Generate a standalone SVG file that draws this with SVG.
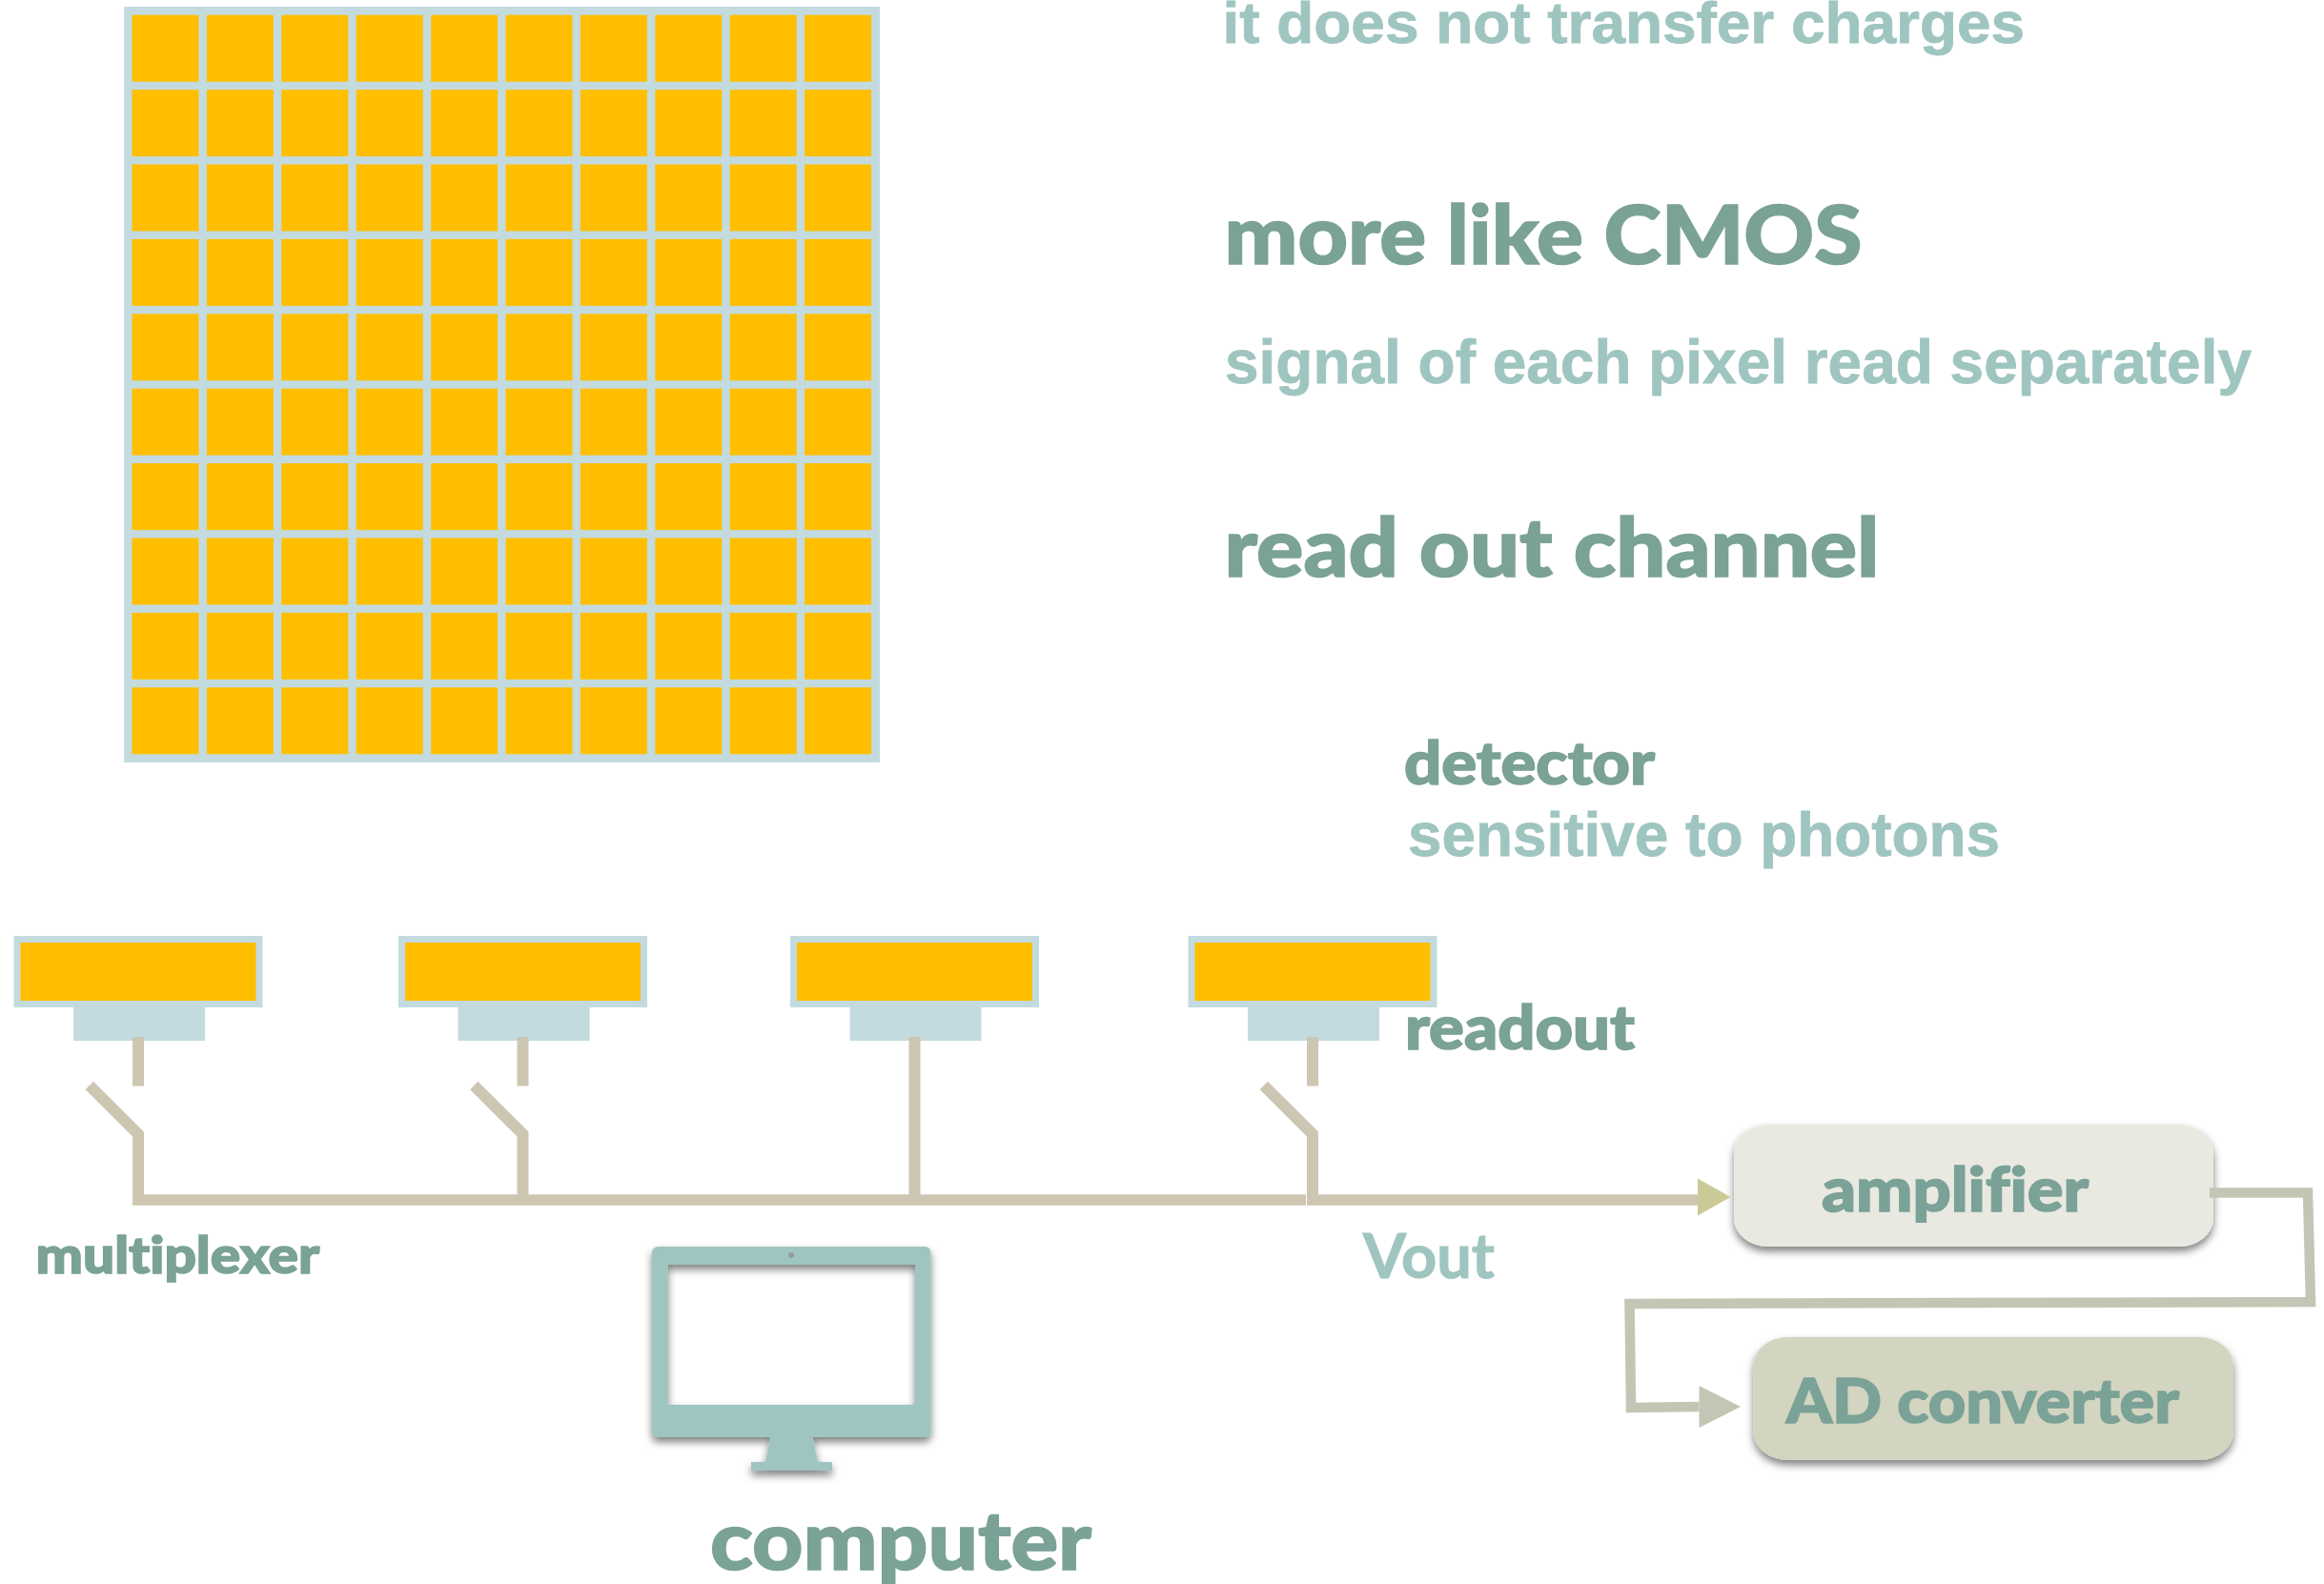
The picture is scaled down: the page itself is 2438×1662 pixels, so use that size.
<svg xmlns="http://www.w3.org/2000/svg" width="2438" height="1662" viewBox="0 0 2438 1662">
<style>
text{font-family:"Lato","Open Sans","Liberation Sans",sans-serif;font-weight:900;fill:#7BA297;stroke:#7BA297;stroke-width:1.6;font-variant-ligatures:none}
text.a{font-family:"Liberation Sans",Arial,sans-serif;font-weight:700;fill:#9FC5C0;stroke:#9FC5C0;stroke-width:0.8}
text.v{font-weight:700;fill:#9FC5C0;stroke:#9FC5C0;stroke-width:1}
.px{fill:#FFBF00}
.fr{fill:#C3DBDF}
.w{fill:none;stroke:#CDC6B2;stroke-width:12;stroke-miterlimit:10}
.w2{fill:none;stroke:#C3C6B4;stroke-width:10.5;stroke-miterlimit:10}
.sh{filter:url(#shadow)}
</style>
<defs>
<filter id="shadow" x="-10%" y="-10%" width="120%" height="130%"><feDropShadow dx="0" dy="5" stdDeviation="4" flood-color="#000" flood-opacity="0.5"/></filter>
<marker id="ah1" markerUnits="userSpaceOnUse" markerWidth="35" markerHeight="40" refX="0" refY="22.5" orient="0" overflow="visible"><path d="M0 0L34.5 19.5L0 39Z" fill="#CBCA97"/></marker>
<marker id="ah2" markerUnits="userSpaceOnUse" markerWidth="45" markerHeight="45" refX="0" refY="22" orient="0" overflow="visible"><path d="M0 0L43.5 22L0 44Z" fill="#C3C6B4"/></marker>
<g id="det"><rect class="fr" x="-130.5" y="982" width="261" height="75"/><rect class="px" x="-123.5" y="989" width="247" height="61"/><rect class="fr" x="-68" y="1057" width="138" height="35"/></g>
<rect id="cell" class="px" width="70" height="70"/>
</defs>
<rect width="2438" height="1662" fill="#fff"/>
<g id="pixel-array">
<rect class="fr" x="130" y="7" width="793" height="793"/>
<g id="cells">
<use href="#cell" x="138.500" y="15.700"/><use href="#cell" x="216.900" y="15.700"/><use href="#cell" x="295.300" y="15.700"/><use href="#cell" x="373.700" y="15.700"/><use href="#cell" x="452.100" y="15.700"/><use href="#cell" x="530.500" y="15.700"/><use href="#cell" x="608.900" y="15.700"/><use href="#cell" x="687.300" y="15.700"/><use href="#cell" x="765.700" y="15.700"/><use href="#cell" x="844.100" y="15.700"/>
<use href="#cell" x="138.500" y="94.100"/><use href="#cell" x="216.900" y="94.100"/><use href="#cell" x="295.300" y="94.100"/><use href="#cell" x="373.700" y="94.100"/><use href="#cell" x="452.100" y="94.100"/><use href="#cell" x="530.500" y="94.100"/><use href="#cell" x="608.900" y="94.100"/><use href="#cell" x="687.300" y="94.100"/><use href="#cell" x="765.700" y="94.100"/><use href="#cell" x="844.100" y="94.100"/>
<use href="#cell" x="138.500" y="172.500"/><use href="#cell" x="216.900" y="172.500"/><use href="#cell" x="295.300" y="172.500"/><use href="#cell" x="373.700" y="172.500"/><use href="#cell" x="452.100" y="172.500"/><use href="#cell" x="530.500" y="172.500"/><use href="#cell" x="608.900" y="172.500"/><use href="#cell" x="687.300" y="172.500"/><use href="#cell" x="765.700" y="172.500"/><use href="#cell" x="844.100" y="172.500"/>
<use href="#cell" x="138.500" y="250.900"/><use href="#cell" x="216.900" y="250.900"/><use href="#cell" x="295.300" y="250.900"/><use href="#cell" x="373.700" y="250.900"/><use href="#cell" x="452.100" y="250.900"/><use href="#cell" x="530.500" y="250.900"/><use href="#cell" x="608.900" y="250.900"/><use href="#cell" x="687.300" y="250.900"/><use href="#cell" x="765.700" y="250.900"/><use href="#cell" x="844.100" y="250.900"/>
<use href="#cell" x="138.500" y="329.300"/><use href="#cell" x="216.900" y="329.300"/><use href="#cell" x="295.300" y="329.300"/><use href="#cell" x="373.700" y="329.300"/><use href="#cell" x="452.100" y="329.300"/><use href="#cell" x="530.500" y="329.300"/><use href="#cell" x="608.900" y="329.300"/><use href="#cell" x="687.300" y="329.300"/><use href="#cell" x="765.700" y="329.300"/><use href="#cell" x="844.100" y="329.300"/>
<use href="#cell" x="138.500" y="407.700"/><use href="#cell" x="216.900" y="407.700"/><use href="#cell" x="295.300" y="407.700"/><use href="#cell" x="373.700" y="407.700"/><use href="#cell" x="452.100" y="407.700"/><use href="#cell" x="530.500" y="407.700"/><use href="#cell" x="608.900" y="407.700"/><use href="#cell" x="687.300" y="407.700"/><use href="#cell" x="765.700" y="407.700"/><use href="#cell" x="844.100" y="407.700"/>
<use href="#cell" x="138.500" y="486.100"/><use href="#cell" x="216.900" y="486.100"/><use href="#cell" x="295.300" y="486.100"/><use href="#cell" x="373.700" y="486.100"/><use href="#cell" x="452.100" y="486.100"/><use href="#cell" x="530.500" y="486.100"/><use href="#cell" x="608.900" y="486.100"/><use href="#cell" x="687.300" y="486.100"/><use href="#cell" x="765.700" y="486.100"/><use href="#cell" x="844.100" y="486.100"/>
<use href="#cell" x="138.500" y="564.500"/><use href="#cell" x="216.900" y="564.500"/><use href="#cell" x="295.300" y="564.500"/><use href="#cell" x="373.700" y="564.500"/><use href="#cell" x="452.100" y="564.500"/><use href="#cell" x="530.500" y="564.500"/><use href="#cell" x="608.900" y="564.500"/><use href="#cell" x="687.300" y="564.500"/><use href="#cell" x="765.700" y="564.500"/><use href="#cell" x="844.100" y="564.500"/>
<use href="#cell" x="138.500" y="642.900"/><use href="#cell" x="216.900" y="642.900"/><use href="#cell" x="295.300" y="642.900"/><use href="#cell" x="373.700" y="642.900"/><use href="#cell" x="452.100" y="642.900"/><use href="#cell" x="530.500" y="642.900"/><use href="#cell" x="608.900" y="642.900"/><use href="#cell" x="687.300" y="642.900"/><use href="#cell" x="765.700" y="642.900"/><use href="#cell" x="844.100" y="642.900"/>
<use href="#cell" x="138.500" y="721.300"/><use href="#cell" x="216.900" y="721.300"/><use href="#cell" x="295.300" y="721.300"/><use href="#cell" x="373.700" y="721.300"/><use href="#cell" x="452.100" y="721.300"/><use href="#cell" x="530.500" y="721.300"/><use href="#cell" x="608.900" y="721.300"/><use href="#cell" x="687.300" y="721.300"/><use href="#cell" x="765.700" y="721.300"/><use href="#cell" x="844.100" y="721.300"/>
</g>
</g>
<g id="notes">
<text class="a" x="1282.500" y="45" font-size="61" textLength="841.500" lengthAdjust="spacingAndGlyphs">it does not transfer charges</text>
<text x="1284.500" y="276.500" font-size="85" textLength="669" lengthAdjust="spacingAndGlyphs">more like CMOS</text>
<text class="a" x="1285" y="402" font-size="64" textLength="1077" lengthAdjust="spacingAndGlyphs">signal of each pixel read separately</text>
<text x="1284.500" y="604.500" font-size="85" textLength="687" lengthAdjust="spacingAndGlyphs">read out channel</text>
<text x="1473" y="823" font-size="62" textLength="263" lengthAdjust="spacingAndGlyphs">detector</text>
<text class="a" x="1477" y="898" font-size="64" textLength="621" lengthAdjust="spacingAndGlyphs">sensitive to photons</text>
</g>
<g id="detector-1"><use href="#det" x="145"/></g>
<g id="detector-2"><use href="#det" x="548.500"/></g>
<g id="detector-3"><use href="#det" x="959.500"/></g>
<g id="detector-4"><use href="#det" x="1377"/></g>
<g id="readout-label"><text x="1474" y="1100.500" font-size="64" textLength="241" lengthAdjust="spacingAndGlyphs">readout</text></g>
<g id="multiplexer-label"><text x="37.500" y="1335.500" font-size="54" textLength="297.500" lengthAdjust="spacingAndGlyphs">multiplexer</text></g>
<g id="vout-label"><text class="v" x="1430" y="1340.500" font-size="65" textLength="138" lengthAdjust="spacingAndGlyphs">Vout</text></g>
<g id="amplifier">
<rect class="sh" x="1819" y="1180" width="503" height="128" rx="36" ry="30" fill="#E9E9E1"/>
<text x="1911" y="1271" font-size="64" textLength="280" lengthAdjust="spacingAndGlyphs">amplifier</text>
</g>
<g id="ad-converter">
<rect class="sh" x="1839.500" y="1403" width="503.500" height="129" rx="36" ry="30" fill="#D3D5C1"/>
<text x="1874" y="1492.500" font-size="65" textLength="412" lengthAdjust="spacingAndGlyphs">AD converter</text>
</g>
<g id="computer">
<path class="sh" fill="#9FC5C0" fill-rule="evenodd" d="M690 1308H970.500a6 6 0 0 1 6 6V1502a6 6 0 0 1-6 6H852.400L858 1534H873V1543H788V1534H803L808 1508H690a6 6 0 0 1-6-6V1314a6 6 0 0 1 6-6ZM700.700 1327V1474H960V1327Z"/>
<circle cx="830" cy="1317" r="3" fill="#8F9F9E"/>
<text x="745" y="1647" font-size="85" textLength="400" lengthAdjust="spacingAndGlyphs">computer</text>
</g>
<g id="connectors">
<path class="w" d="M145 1088V1139.500M548.500 1088V1139.500M1377 1088V1139.500M959.500 1088V1259"/>
<path class="w" d="M93.800 1139L145 1190V1259M497.300 1139L548.500 1190V1259M1325.800 1139L1377 1190V1259"/>
<path class="w" style="stroke-width:11.500" d="M139 1259H1370"/>
<path class="w" style="stroke-width:11.500" marker-end="url(#ah1)" d="M1371 1259H1781"/>
<path class="w2" marker-end="url(#ah2)" d="M2318 1251.500H2421L2424 1366L1709.500 1368L1711 1477L1782.500 1476"/>
</g>
</svg>
